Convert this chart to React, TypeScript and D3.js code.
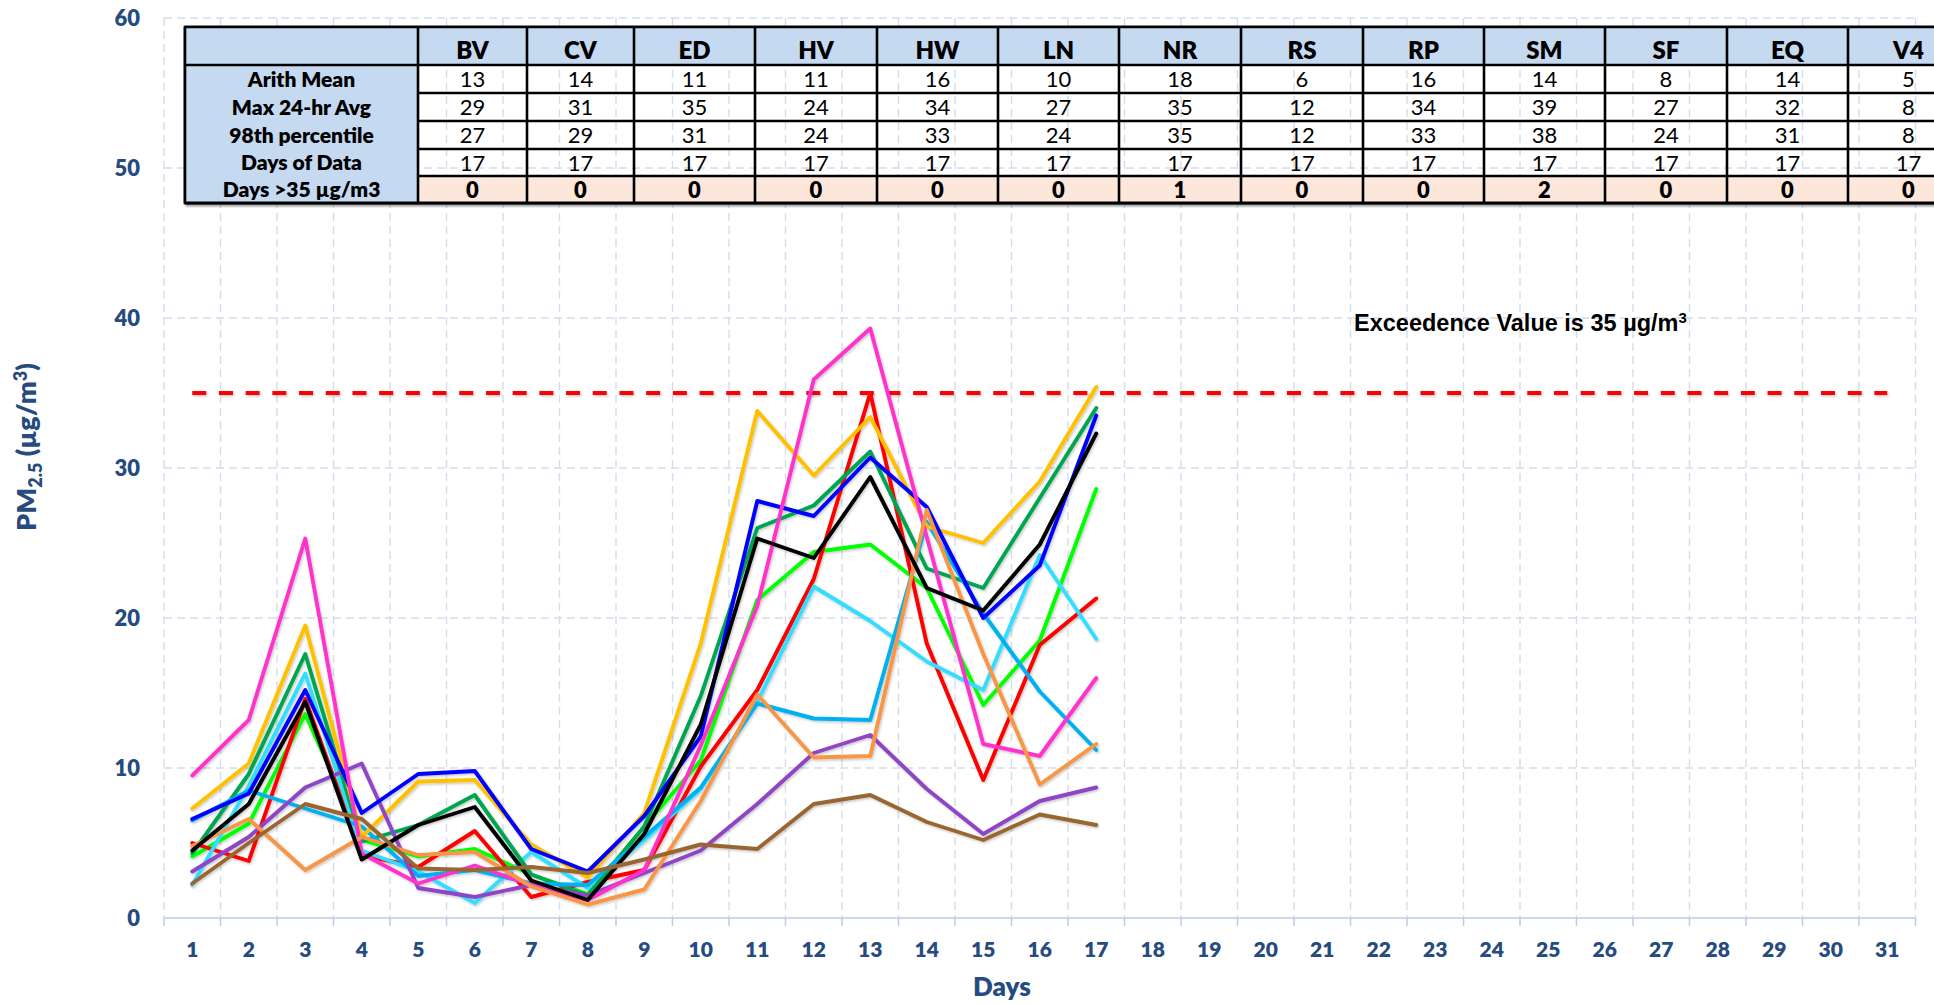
import React from 'react';
import * as d3 from 'd3';

// ---------------- DATA ----------------
const dayLabels = ['1','2','3','4','5','6','7','8','9','10','11','12','13','14','15','16','17','18','19','20','21','22','23','24','25','26','27','28','29','30','31'];
const yTicks = [0, 10, 20, 30, 40, 50, 60];
const exceedenceValue = 35;

const stations = ['BV','CV','ED','HV','HW','LN','NR','RS','RP','SM','SF','EQ','V4'];
const rowLabels = ['Arith Mean','Max 24-hr Avg','98th percentile','Days of Data','Days >35 µg/m3'];
const arithMean = [13,14,11,11,16,10,18,6,16,14,8,14,5];
const max24hr = [29,31,35,24,34,27,35,12,34,39,27,32,8];
const pct98 = [27,29,31,24,33,24,35,12,33,38,24,31,8];
const daysOfData = [17,17,17,17,17,17,17,17,17,17,17,17,17];
const daysOver35 = [0,0,0,0,0,0,1,0,0,2,0,0,0];

// daily 24-hr averages, days 1..17
const seriesBV = [4.1, 6.3, 13.6, 5.2, 4.1, 4.6, 2.9, 1.6, 6.1, 10.5, 21.2, 24.4, 24.9, 22.0, 14.2, 18.5, 28.6];
const seriesED = [5.0, 3.8, 14.6, 4.2, 3.4, 5.8, 1.4, 2.4, 3.2, 10.1, 15.2, 22.6, 35.0, 18.3, 9.2, 18.2, 21.3];
const seriesHV = [2.2, 8.8, 16.3, 4.5, 3.1, 1.0, 4.4, 2.0, 5.2, 8.6, 14.4, 22.1, 19.8, 17.1, 15.2, 24.2, 18.6];
const seriesHW = [4.3, 9.6, 17.6, 5.1, 6.2, 8.2, 2.9, 1.5, 6.1, 14.8, 26.0, 27.5, 31.1, 23.3, 22.0, 28.0, 34.0];
const seriesLN = [6.5, 8.5, 7.3, 6.1, 2.8, 3.2, 2.3, 2.2, 5.4, 8.7, 14.3, 13.3, 13.2, 26.4, 20.3, 15.1, 11.2];
const seriesNR = [7.3, 10.3, 19.5, 5.4, 9.1, 9.2, 4.9, 2.7, 7.0, 18.3, 33.8, 29.5, 33.4, 26.1, 25.0, 29.1, 35.4];
const seriesRS = [3.1, 5.4, 8.7, 10.3, 2.0, 1.4, 2.2, 1.5, 3.0, 4.5, 7.6, 11.0, 12.2, 8.6, 5.6, 7.8, 8.7];
const seriesRP = [6.6, 8.3, 15.2, 7.0, 9.6, 9.8, 4.6, 3.1, 6.8, 12.1, 27.8, 26.8, 30.7, 27.4, 20.0, 23.5, 33.5];
const seriesSM = [9.5, 13.2, 25.3, 4.3, 2.3, 3.5, 2.2, 1.2, 3.2, 11.5, 20.8, 35.9, 39.3, 25.4, 11.6, 10.8, 16.0];
const seriesSF = [4.8, 6.6, 3.2, 5.4, 4.2, 4.4, 2.1, 0.9, 1.9, 7.8, 14.9, 10.7, 10.8, 27.2, 17.6, 8.9, 11.6];
const seriesEQ = [4.5, 7.6, 14.4, 3.9, 6.2, 7.4, 2.5, 1.2, 5.6, 12.9, 25.3, 24.0, 29.4, 22.0, 20.5, 24.9, 32.3];
const seriesV4 = [2.3, 5.0, 7.6, 6.6, 3.3, 3.2, 3.4, 3.0, 3.9, 4.9, 4.6, 7.6, 8.2, 6.4, 5.2, 6.9, 6.2];

const series = [
  { name: 'BV', values: seriesBV, color: '#00FF00' },
  { name: 'ED', values: seriesED, color: '#FF0000' },
  { name: 'HV', values: seriesHV, color: '#33DDFF' },
  { name: 'HW', values: seriesHW, color: '#00A650' },
  { name: 'LN', values: seriesLN, color: '#00B0F0' },
  { name: 'NR', values: seriesNR, color: '#FFC000' },
  { name: 'RS', values: seriesRS, color: '#8E44C6' },
  { name: 'RP', values: seriesRP, color: '#0000FF' },
  { name: 'SM', values: seriesSM, color: '#FF33CC' },
  { name: 'SF', values: seriesSF, color: '#F79646' },
  { name: 'EQ', values: seriesEQ, color: '#000000' },
  { name: 'V4', values: seriesV4, color: '#996633' },
];

// ---------------- LAYOUT ----------------
const W = 1934;
const H = 1005;
const plotLeft = 164;
const plotRight = 1915.5;
const plotTop = 18;
const plotBottom = 918;
const axisColor = '#264B7E';
const gridColor = '#D3DDEC';
const calibri = 'Lato, "Open Sans", sans-serif';

const tableColEdges = [185, 418, 527, 634, 755, 877, 998, 1119, 1241, 1363, 1484, 1605, 1727, 1848, 1969];
const tableRowEdges = [27, 65, 93, 121, 149, 176, 203];

export default function App() {
  const x = d3.scaleBand<string>().domain(dayLabels).range([plotLeft, plotRight]).padding(0);
  const bw = x.bandwidth();
  const cx = (i: number) => (x(dayLabels[i]) as number) + bw / 2;
  const y = d3.scaleLinear().domain([0, 60]).range([plotBottom, plotTop]);

  const line = d3.line<number>().x((_, i) => cx(i)).y((d) => y(d));

  const boundaries = dayLabels.map((d) => x(d) as number).concat([plotRight]);

  const statRows = [arithMean, max24hr, pct98, daysOfData, daysOver35];
  const tRight = tableColEdges[tableColEdges.length - 1];

  return (
    <svg width={W} height={H} style={{ position: 'fixed', left: 0, top: 0, display: 'block', background: '#fff' }}>
      <defs>
        <filter id="sh" filterUnits="userSpaceOnUse" x={0} y={0} width={W} height={H}>
          <feDropShadow dx="1.2" dy="1.5" stdDeviation="1" floodColor="#000" floodOpacity="0.22" />
        </filter>
        <filter id="tsh" filterUnits="userSpaceOnUse" x={0} y={0} width={W} height={H}>
          <feDropShadow dx="2" dy="2" stdDeviation="1.2" floodColor="#000" floodOpacity="0.45" />
        </filter>
      </defs>
      <rect x={0} y={0} width={W} height={H} fill="#fff" />

      {/* gridlines */}
      <g>
        {yTicks.filter((t) => t > 0).map((t) => (
          <line key={'h' + t} x1={plotLeft} x2={plotRight} y1={y(t)} y2={y(t)} stroke={gridColor} strokeWidth={1.4} strokeDasharray="8 5" />
        ))}
        {boundaries.map((b, i) => (
          <line key={'v' + i} x1={b} x2={b} y1={plotTop} y2={plotBottom} stroke={gridColor} strokeWidth={1.4} strokeDasharray="8 5" />
        ))}
      </g>

      {/* x axis */}
      <g>
        <line x1={plotLeft} x2={plotRight} y1={plotBottom} y2={plotBottom} stroke="#BCCDE4" strokeWidth={1.5} />
        {boundaries.map((b, i) => (
          <line key={'t' + i} x1={b} x2={b} y1={plotBottom} y2={plotBottom + 8} stroke="#BCCDE4" strokeWidth={1.5} />
        ))}
        {dayLabels.map((d, i) => (
          <text key={d} x={cx(i)} y={957} textAnchor="middle" fontFamily={calibri} fontWeight={800} fontSize={21} fill={axisColor}>{d}</text>
        ))}
        <text x={1002} y={996} textAnchor="middle" fontFamily={calibri} fontWeight={800} fontSize={26} fill={axisColor}>Days</text>
      </g>

      {/* y axis */}
      <g>
        {yTicks.map((t) => (
          <text key={t} x={140} y={y(t) + 8} textAnchor="end" fontFamily={calibri} fontWeight={800} fontSize={22} fill={axisColor}>{t}</text>
        ))}
        <text transform="translate(36,447) rotate(-90)" textAnchor="middle" fontFamily={calibri} fontWeight={800} fontSize={27} fill={axisColor}>
          PM<tspan fontSize={18} dy={6}>2.5</tspan><tspan dy={-6}> (µg/m</tspan><tspan fontSize={18} dy={-9}>3</tspan><tspan dy={9}>)</tspan>
        </text>
      </g>

      {/* exceedence line */}
      <line x1={cx(0)} x2={cx(dayLabels.length - 1)} y1={y(exceedenceValue)} y2={y(exceedenceValue)} stroke="#FF0000" strokeWidth={4} strokeDasharray="14 12.7" filter="url(#sh)" />
      <text x={1354} y={331} fontFamily='"Liberation Sans", Arial, sans-serif' fontWeight={700} fontSize={23.5} fill="#000">
        Exceedence Value is 35 µg/m<tspan fontSize={15} dy={-8}>3</tspan>
      </text>

      {/* series */}
      <g fill="none" strokeWidth={3.9} strokeLinejoin="round" strokeLinecap="round" filter="url(#sh)">
        {series.map((s) => (
          <path key={s.name} d={line(s.values) as string} stroke={s.color} />
        ))}
      </g>

      {/* table */}
      <g>
        <rect x={tableColEdges[0]} y={tableRowEdges[0]} width={tRight - tableColEdges[0]} height={tableRowEdges[6] - tableRowEdges[0]} fill="none" stroke="#000" strokeWidth={2.6} filter="url(#tsh)" />
        <rect x={tableColEdges[0]} y={tableRowEdges[0]} width={tRight - tableColEdges[0]} height={tableRowEdges[1] - tableRowEdges[0]} fill="#C5D9F1" />
        <rect x={tableColEdges[0]} y={tableRowEdges[1]} width={tableColEdges[1] - tableColEdges[0]} height={tableRowEdges[6] - tableRowEdges[1]} fill="#C5D9F1" />
        <rect x={tableColEdges[1]} y={tableRowEdges[5]} width={tRight - tableColEdges[1]} height={tableRowEdges[6] - tableRowEdges[5]} fill="#FCE7DA" />

        <line x1={tableColEdges[0]} x2={tRight} y1={tableRowEdges[0]} y2={tableRowEdges[0]} stroke="#000" strokeWidth={2.6} />
        <line x1={tableColEdges[0]} x2={tRight} y1={tableRowEdges[1]} y2={tableRowEdges[1]} stroke="#000" strokeWidth={2.6} />
        {tableRowEdges.slice(2).map((ry, i) => (
          <line key={'hr' + i} x1={i === tableRowEdges.length - 3 ? tableColEdges[0] : tableColEdges[1]} x2={tRight} y1={ry} y2={ry} stroke="#000" strokeWidth={i === tableRowEdges.length - 3 ? 3.2 : 2.6} />
        ))}
        {tableColEdges.map((cxE, i) => (
          <line key={'vc' + i} x1={cxE} x2={cxE} y1={tableRowEdges[0]} y2={tableRowEdges[6]} stroke="#000" strokeWidth={2.6} />
        ))}

        {stations.map((s, i) => (
          <text key={s} x={(tableColEdges[i + 1] + tableColEdges[i + 2]) / 2} y={59} textAnchor="middle" fontFamily={calibri} fontWeight={800} fontSize={24} fill="#000">{s}</text>
        ))}
        {rowLabels.map((r, ri) => (
          <text key={r} x={(tableColEdges[0] + tableColEdges[1]) / 2} y={(tableRowEdges[ri + 1] + tableRowEdges[ri + 2]) / 2 + 7.5} textAnchor="middle" fontFamily={calibri} fontWeight={800} fontSize={21} fill="#000">{r}</text>
        ))}
        {statRows.map((row, ri) =>
          row.map((v, ci) => (
            <text key={ri + '-' + ci} x={(tableColEdges[ci + 1] + tableColEdges[ci + 2]) / 2} y={(tableRowEdges[ri + 1] + tableRowEdges[ri + 2]) / 2 + 8} textAnchor="middle" fontFamily={calibri} fontWeight={ri === 4 ? 800 : 400} fontSize={22} fill="#000">{v}</text>
          ))
        )}
      </g>
    </svg>
  );
}
